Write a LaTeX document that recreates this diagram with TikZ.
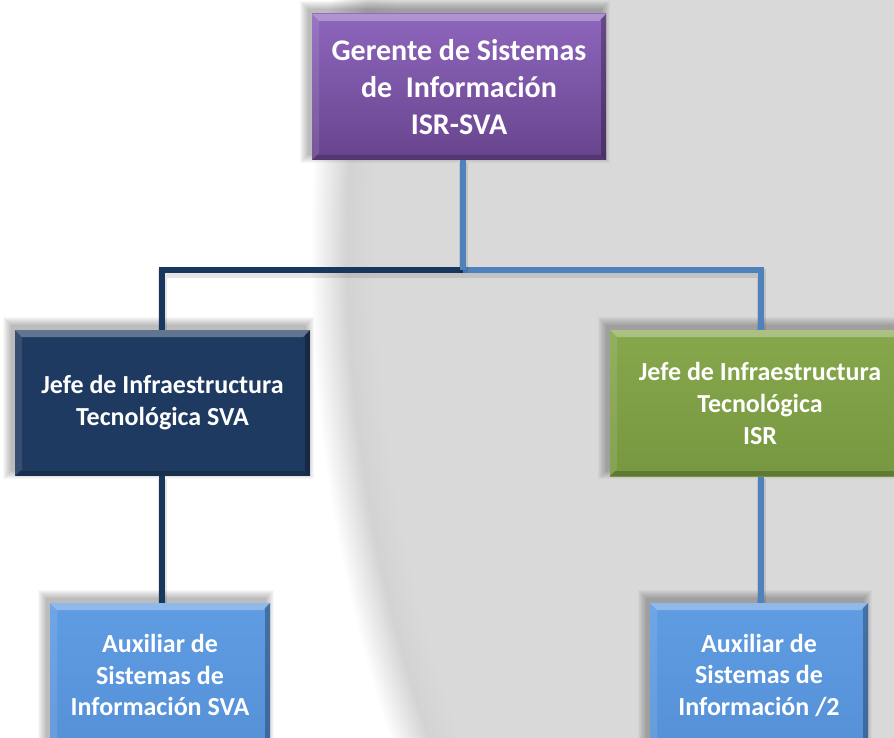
\documentclass[tikz,border=0pt]{standalone}
\usepackage{fontspec}
\setmainfont{Carlito}
\definecolor{bggray}{HTML}{D9D9D9}
\definecolor{bgrim}{HTML}{D3D3D3}
\definecolor{purpTop}{HTML}{8E66BD}
\definecolor{purpBot}{HTML}{68448D}
\definecolor{navy}{HTML}{1F3A61}
\definecolor{grnTop}{HTML}{87A74C}
\definecolor{grnBot}{HTML}{779840}
\definecolor{bluTop}{HTML}{5F9CE2}
\definecolor{bluBot}{HTML}{5691D8}
\definecolor{lightline}{HTML}{4F81BD}
\definecolor{darkline}{HTML}{17375E}
\pgfdeclareradialshading{discshade}{\pgfpoint{0bp}{0bp}}{color(0bp)=(bggray); color(23.9bp)=(bggray); color(24.4bp)=(bgrim); color(25bp)=(white)}
\pgfdeclarelayer{bgdisc}
\pgfdeclarelayer{background}
\pgfsetlayers{bgdisc,background,main}
\tikzset{
  bevel/.style={path picture={
    \fill[white,opacity=0.30] (path picture bounding box.north west) -- (path picture bounding box.north east)
      -- ([shift={(-7pt,-7pt)}]path picture bounding box.north east) -- ([shift={(7pt,-7pt)}]path picture bounding box.north west) -- cycle;
    \fill[white,opacity=0.10] (path picture bounding box.north west) -- ([shift={(7pt,-7pt)}]path picture bounding box.north west)
      -- ([shift={(7pt,7pt)}]path picture bounding box.south west) -- (path picture bounding box.south west) -- cycle;
    \fill[black,opacity=0.28] (path picture bounding box.north east) -- (path picture bounding box.south east)
      -- ([shift={(-5pt,5pt)}]path picture bounding box.south east) -- ([shift={(-5pt,-5pt)}]path picture bounding box.north east) -- cycle;
    \fill[black,opacity=0.20] (path picture bounding box.south west) -- (path picture bounding box.south east)
      -- ([shift={(-5pt,5pt)}]path picture bounding box.south east) -- ([shift={(5pt,5pt)}]path picture bounding box.south west) -- cycle;
  }},
  card/.style={rectangle, inner sep=0pt, align=center, text=white, bevel},
  bigtext/.style={font=\fontsize{30}{37}\selectfont\bfseries},
  midtext/.style={font=\fontsize{26}{32}\selectfont\bfseries},
  smalltext/.style={font=\fontsize{26}{31.5}\selectfont\bfseries},
  conn/.style={line width=6pt, preaction={draw=black, opacity=0.10, line width=9pt, transform canvas={yshift=-3pt}}},
}
\begin{document}
\begin{tikzpicture}[x=1pt,y=-1pt]
\useasboundingbox (0,0) rectangle (894,738);
\clip (0,0) rectangle (894,738);
\begin{pgfonlayer}{bgdisc}
  \fill[white] (0,0) rectangle (894,738);
  \coordinate (dc) at (1845,250);
  \shade[shading=discshade] (dc) circle (1535);
\end{pgfonlayer}

\node[card, bigtext, minimum width=294, minimum height=146, top color=purpTop, bottom color=purpBot]
  (top) at (459,87) {Gerente de Sistemas\\de\ \ Información\\ISR-SVA};
\node[card, midtext, minimum width=295, minimum height=146, fill=navy]
  (jl) at (162.5,403) {Jefe de Infraestructura\\Tecnológica SVA};
\node[card, midtext, minimum width=300, minimum height=146, top color=grnTop, bottom color=grnBot]
  (jr) at (760,403) {Jefe de Infraestructura\\Tecnológica\\ISR};
\node[card, smalltext, minimum width=220, minimum height=144, top color=bluTop, bottom color=bluBot]
  (al) at (160,675) {Auxiliar de\\Sistemas de\\Información SVA};
\node[card, smalltext, minimum width=218, minimum height=144, top color=bluTop, bottom color=bluBot]
  (ar) at (759,675) {Auxiliar de\\Sistemas de\\Información /2};

\coordinate (hub) at (463,270);
\coordinate (lt) at (162,270);
\coordinate (rt) at (761,270);

\begin{pgfonlayer}{background}
  \foreach \n in {top,jl,jr,al,ar} {
    \foreach \k in {0,...,8} {
      \fill[black, opacity=0.03]
        ([xshift={-4pt-\k*1pt}, yshift={5pt+\k*1pt}]\n.north west) rectangle
        ([xshift={-4pt+\k*1pt}, yshift={5pt-\k*1pt}]\n.south east);
    }
  }
  \draw[conn, darkline] (hub) -- (lt) -- (lt |- jl.north);
  \draw[conn, lightline] (hub) -- (rt) -- (rt |- jr.north);
  \draw[conn, lightline] (hub |- top.south) -- (hub);
  \draw[conn, darkline] (lt |- jl.south) -- (lt |- al.north);
  \draw[conn, lightline] (rt |- jr.south) -- (rt |- ar.north);
\end{pgfonlayer}
\end{tikzpicture}
\end{document}
